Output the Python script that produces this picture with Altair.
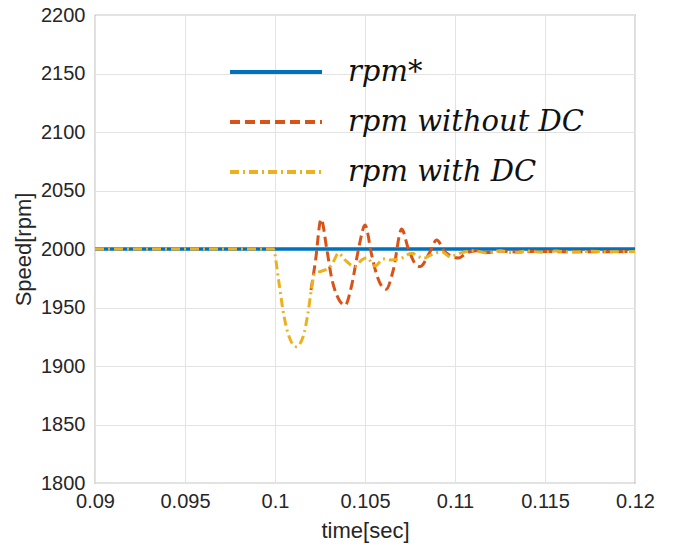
import altair as alt
import pandas as pd

# ---- data ----
series_names = ["rpm*", "rpm without DC", "rpm with DC"]

ref_t = [0.09, 0.12]
ref_rpm = [2000, 2000]

with_t = [0.09, 0.0999, 0.1002, 0.10044, 0.10072, 0.10118, 0.10156, 0.10183,
          0.10202, 0.1022, 0.10257, 0.10296, 0.10324, 0.10352, 0.10389,
          0.10444, 0.10481, 0.10509, 0.10556, 0.10602, 0.10639, 0.10694,
          0.10759, 0.10824, 0.10861, 0.10926, 0.10972, 0.11028, 0.11102,
          0.11176, 0.1125, 0.11324, 0.114, 0.1148, 0.1156, 0.1165, 0.1175,
          0.1185, 0.12]
with_rpm = [2000, 2000, 1973.5, 1948, 1928, 1916.5, 1925, 1945,
            1965, 1979, 1981, 1983.5, 1989, 1996.5, 1990.6,
            1985, 1990.6, 1992.6, 1985.5, 1991.5, 1990.6, 1991.6,
            1996.3, 1992, 1994.5, 1997.7, 1993.4, 1996.5, 1998.5,
            1996.6, 1998.5, 1996.8, 1998.3, 1997.2, 1998.2, 1997.4, 1998.0,
            1997.6, 1997.8]

without_t = [0.1020, 0.10225, 0.10256, 0.10287, 0.10315, 0.10343, 0.10389,
             0.10426, 0.10454, 0.10472, 0.105, 0.10537, 0.10565, 0.10617,
             0.10657, 0.10704, 0.1074, 0.10787, 0.10806, 0.10861, 0.10898,
             0.10944, 0.11019, 0.11065, 0.1112, 0.1118, 0.1125, 0.1135,
             0.1145, 0.116, 0.12]
without_rpm = [1965, 1990, 2025.6, 2000.6, 1975, 1960.7, 1952,
               1969, 1992, 2006, 2020.5, 1995, 1978, 1965.5,
               1982, 2017, 2000.6, 1986, 1985, 1997.7, 2007.7,
               1997.7, 1992.3, 1996.6, 1998.5, 1997, 1998.2, 1997.4,
               1998, 1997.6, 1997.8]

x_ticks = [0.09, 0.095, 0.1, 0.105, 0.11, 0.115, 0.12]
y_ticks = [1800, 1850, 1900, 1950, 2000, 2050, 2100, 2150, 2200]

colors = ["#0072BD", "#D95319", "#EDB120"]
dashes = [[1, 0], [10, 5], [9, 4, 2, 4]]

df = pd.concat([
    pd.DataFrame({"t": ref_t, "rpm": ref_rpm, "series": series_names[0]}),
    pd.DataFrame({"t": without_t, "rpm": without_rpm, "series": series_names[1]}),
    pd.DataFrame({"t": with_t, "rpm": with_rpm, "series": series_names[2]}),
], ignore_index=True)

color_scale = alt.Scale(domain=series_names, range=colors)
dash_scale = alt.Scale(domain=series_names, range=dashes)

legend = alt.Legend(
    title=None, orient="none", legendX=133, legendY=42,
    symbolType="stroke", symbolSize=8464, symbolStrokeWidth=4,
    clipHeight=30, rowPadding=20, labelOffset=24,
    labelFont="DejaVu Serif", labelFontStyle="italic", labelFontSize=29,
    labelColor="#111111", labelLimit=400,
)

x_enc = alt.X("t:Q", scale=alt.Scale(domain=[0.09, 0.12], nice=False, zero=False),
              axis=alt.Axis(values=x_ticks, format="~g", title="time[sec]"))
y_enc = alt.Y("rpm:Q", scale=alt.Scale(domain=[1800, 2200], nice=False, zero=False),
              axis=alt.Axis(values=y_ticks, format="d", title="Speed[rpm]"))

def layer(name, width):
    return alt.Chart(df).transform_filter(alt.datum.series == name).mark_line(
        strokeWidth=width, interpolate="monotone"
    ).encode(
        x=x_enc, y=y_enc,
        color=alt.Color("series:N", scale=color_scale, legend=legend, sort=series_names),
        strokeDash=alt.StrokeDash("series:N", scale=dash_scale, legend=legend, sort=series_names),
    )

chart = alt.layer(
    layer(series_names[0], 3.5),
    layer(series_names[1], 3),
    layer(series_names[2], 3),
).properties(
    width=540, height=468,
    autosize=alt.AutoSizeParams(type="none"),
    padding={"left": 95, "top": 15, "right": 41, "bottom": 69},
    background="white",
).configure_view(
    stroke="#8a8a8a", strokeWidth=1.2
).configure_axis(
    labelFont="Liberation Sans", titleFont="Liberation Sans",
    labelFontSize=20, titleFontSize=22, titleFontWeight="normal",
    labelColor="#262626", titleColor="#262626", labelFlush=False,
    gridColor="#e3e3e3", gridWidth=1, domain=False, ticks=False,
).configure_axisY(
    labelPadding=10, titlePadding=5
).configure_axisX(
    labelPadding=8, titlePadding=9
)

chart.save("out.html", embed_options={"renderer": "svg", "actions": False})
